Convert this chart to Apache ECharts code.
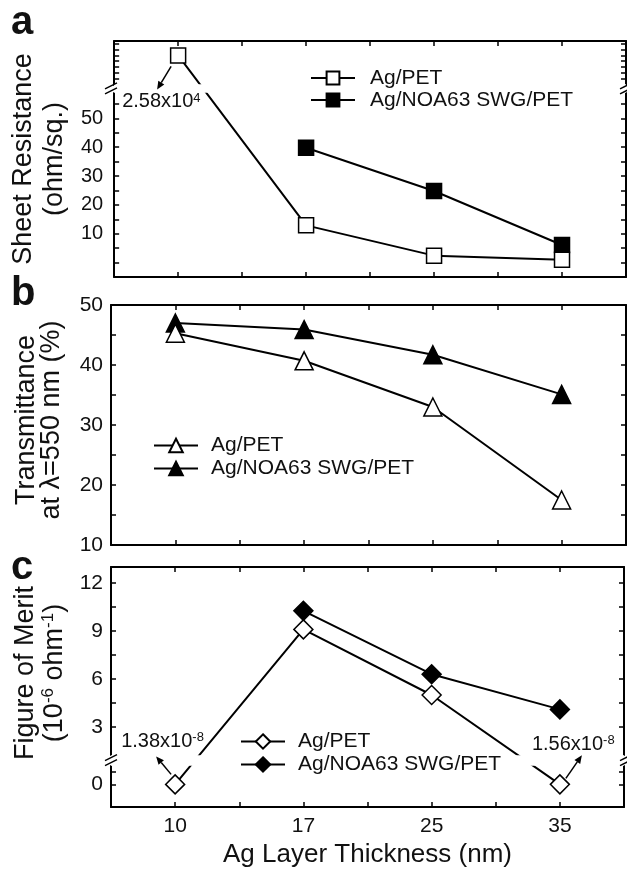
<!DOCTYPE html>
<html><head><meta charset="utf-8">
<script src="https://cdn.jsdelivr.net/npm/echarts@6/dist/echarts.min.js"></script>
<style>html,body{margin:0;padding:0;background:#fff}#c{width:627px;height:870px}</style>
</head><body><div id="c"></div>
<script>
// ---- data ----
const thickness = ['10', '17', '25', '35'];          // Ag layer thickness (nm), equally spaced categories
const sheetResPET = [25800, 12.9, 2.4, 1.0];          // ohm/sq.
const sheetResSWG = [null, 39.8, 24.8, 6.1];
const transPET = [45.3, 40.7, 33.0, 17.5];            // % at 550 nm
const transSWG = [47.0, 45.9, 41.7, 35.1];
const fomPET = [0.0138, 9.1, 5.0, 0.0156];            // 10^-6 ohm^-1
const fomSWG = [null, 10.26, 6.3, 4.1];
const sheetResLabels = [10, 20, 30, 40, 50];
const sheetResTicks = [0, 5, 10, 15, 20, 25, 30, 35, 40, 45, 50, 55, 25792, 25794, 25796, 25798, 25800, 25802, 25804];
const transLabels = [10, 20, 30, 40, 50];
const transTicks = [15, 20, 25, 30, 35, 40, 45];
const fomLabels = [0, 3, 6, 9, 12];
const fomTicks = [0, 0.8, 3, 4.5, 6, 7.5, 9, 10.5, 12];

const FONT = 'Liberation Sans';
const INK = '#111';
const chart = echarts.init(document.getElementById('c'));
const xy = arr => arr.map((v, i) => v == null ? null : [i, v]).filter(p => p);

const grids = [
  {left: 111, right: 1, top: 41, height: 236},
  {left: 111, right: 1, top: 305, height: 240},
  {left: 111, right: 1, top: 567, height: 240}
];

const lineAxis = {color: '#000', width: 2};
function xAxes(g) {
  const base = {
    gridIndex: g, type: 'value', min: -0.5, max: 3.5, interval: 0.5,
    axisLine: {onZero: false, lineStyle: lineAxis},
    axisTick: {inside: true, length: 5, lineStyle: {color: '#000', width: 1.5}},
    splitLine: {show: false}
  };
  return [
    Object.assign({}, base, {
      position: 'bottom',
      axisLabel: {show: g === 2, formatter: v => Number.isInteger(v) ? thickness[v] : '',
        fontSize: 21, color: INK, fontFamily: FONT, margin: 9},
      name: g === 2 ? 'Ag Layer Thickness (nm)' : '', nameLocation: 'middle', nameGap: 34,
      nameTextStyle: {fontSize: 26, color: INK, fontFamily: FONT, lineHeight: 27}
    }),
    Object.assign({}, base, {position: 'top', axisLabel: {show: false}})
  ];
}
function yAxes(g, c) {
  const base = {
    gridIndex: g, type: 'value', min: c.min, max: c.max,
    axisLine: {onZero: false, lineStyle: lineAxis},
    axisTick: {inside: true, length: 5, customValues: c.ticks, lineStyle: {color: '#000', width: 1.5}},
    splitLine: {show: false}
  };
  if (c.breaks) {
    base.breaks = c.breaks;
    base.breakArea = {show: true, itemStyle: {color: '#fff', opacity: 1, borderWidth: 0, borderColor: '#fff'},
      zigzagAmplitude: 0, zigzagZ: 100, expandOnClick: false};
  }
  return [
    Object.assign({}, base, {
      position: 'left',
      axisLabel: {customValues: c.labels, fontSize: c.fs, color: INK, fontFamily: FONT, margin: c.margin},
      name: c.name, nameLocation: 'middle', nameRotate: 90, nameGap: c.nameGap,
      nameTextStyle: {fontSize: 27, color: INK, fontFamily: FONT, lineHeight: c.lh, align: 'center',
        padding: c.pad,
        rich: {s: {fontSize: 17, fontFamily: FONT, color: INK, verticalAlign: 'top', lineHeight: 14}}}
    }),
    Object.assign({}, base, {position: 'right', axisLabel: {show: false}})
  ];
}

const yCfg = [
  {min: -5, max: 25805, breaks: [{start: 59, end: 25790, gap: 2.8}], ticks: sheetResTicks, labels: sheetResLabels,
   fs: 20, margin: 11, name: 'Sheet Resistance\n(ohm/sq.)', nameGap: 38, lh: 31, pad: 0},
  {min: 10, max: 50, ticks: transTicks, labels: transLabels,
   fs: 21, margin: 8, name: 'Transmittance\nat λ=550 nm (%)', nameGap: 47, lh: 25, pad: [0, 0, 0, 10]},
  {min: -1.4, max: 13, breaks: [{start: 1.2, end: 1.25, gap: 0.65}], ticks: fomTicks, labels: fomLabels,
   fs: 21, margin: 8, name: 'Figure of Merit\n(10{s|-6} ohm{s|-1})', nameGap: 38, lh: 29, pad: [0, 0, 0, 28]}
];

function ser(name, g, data, symbol, size, filled) {
  return {
    type: 'line', name, xAxisIndex: 2 * g, yAxisIndex: 2 * g, data: xy(data),
    symbol, symbolSize: size, showAllSymbol: true,
    lineStyle: {color: '#000', width: 2},
    itemStyle: {color: filled ? '#000' : '#fff', borderColor: '#000', borderWidth: 1.5},
    z: filled ? 3 : 4, emphasis: {disabled: true}
  };
}

const series = [
  ser('a|Ag/PET', 0, sheetResPET, 'rect', 15, false),
  ser('a|Ag/NOA63 SWG/PET', 0, sheetResSWG, 'rect', 15, true),
  ser('b|Ag/PET', 1, transPET, 'triangle', 18, false),
  ser('b|Ag/NOA63 SWG/PET', 1, transSWG, 'triangle', 18, true),
  ser('c|Ag/PET', 2, fomPET, 'diamond', 19, false),
  ser('c|Ag/NOA63 SWG/PET', 2, fomSWG, 'diamond', 19, true)
];

function legend(p, left, top, itemH, lh, pad) {
  return {
    data: [p + '|Ag/PET', p + '|Ag/NOA63 SWG/PET'], orient: 'vertical', left, top, z: 300,
    padding: 0, itemGap: 0, itemWidth: 44, itemHeight: itemH, selectedMode: false,
    formatter: n => n.split('|')[1],
    textStyle: {fontSize: 21, color: INK, fontFamily: FONT, lineHeight: lh, padding: [0, 0, 0, pad]}
  };
}

const option = {
  animation: false,
  textStyle: {fontFamily: FONT},
  grid: grids,
  xAxis: [].concat(xAxes(0), xAxes(1), xAxes(2)),
  yAxis: [].concat(yAxes(0, yCfg[0]), yAxes(1, yCfg[1]), yAxes(2, yCfg[2])),
  legend: [legend('a', 310, 67, 16, 22, 10), legend('b', 153, 434, 17, 23, 8), legend('c', 240, 730, 18, 23, 8)],
  series
};
chart.setOption(option);

// ---- annotations positioned from the library's own coordinate conversion ----
const els = [];
function arrow(x1, y1, x2, y2) {
  const a = Math.atan2(y2 - y1, x2 - x1), L = 8, W = 3.5;
  const bx = x2 - L * Math.cos(a), by = y2 - L * Math.sin(a);
  const px = -Math.sin(a) * W, py = Math.cos(a) * W;
  els.push({type: 'line', shape: {x1, y1, x2: bx, y2: by}, style: {stroke: '#000', lineWidth: 1.5}, z: 200});
  els.push({type: 'polygon', shape: {points: [[x2, y2], [bx + px, by + py], [bx - px, by - py]]}, style: {fill: '#000'}, z: 200});
}
function sciText(x, y, text) {
  els.push({type: 'text', x, y, z: 200, style: {text, fontSize: 20, fontFamily: FONT, fill: INK,
    align: 'left', verticalAlign: 'middle',
    rich: {s: {fontSize: 13, fontFamily: FONT, fill: INK, verticalAlign: 'top', lineHeight: 13}}}});
}
function breakMarks(yAxisIndex, s, e) {
  const y = (chart.convertToPixel({yAxisIndex}, s) + chart.convertToPixel({yAxisIndex}, e)) / 2;
  [111, 626].forEach(x => {
    [-2.5, 2.5].forEach(d => {
      els.push({type: 'line', shape: {x1: x - 6, y1: y + d + 3, x2: x + 6, y2: y + d - 3},
        style: {stroke: '#000', lineWidth: 1.5}, z: 210});
    });
  });
}
const pa = chart.convertToPixel({seriesIndex: 0}, [0, sheetResPET[0]]);
arrow(pa[0] - 7, pa[1] + 11, pa[0] - 21, pa[1] + 34);
sciText(pa[0] - 56, pa[1] + 46, '2.58x10{s|4}');
const pc1 = chart.convertToPixel({seriesIndex: 4}, [0, fomPET[0]]);
arrow(pc1[0] - 4, pc1[1] - 10, pc1[0] - 19, pc1[1] - 28);
sciText(pc1[0] - 54, pc1[1] - 43, '1.38x10{s|-8}');
const pc2 = chart.convertToPixel({seriesIndex: 4}, [3, fomPET[3]]);
arrow(pc2[0] + 6, pc2[1] - 6, pc2[0] + 22, pc2[1] - 29);
sciText(pc2[0] - 28, pc2[1] - 40, '1.56x10{s|-8}');
breakMarks(0, 59, 25790);
breakMarks(4, 1.2, 1.25);
['a', 'b', 'c'].forEach((t, i) => {
  els.push({type: 'text', x: 11, y: [23, 294, 568][i], z: 200,
    style: {text: t, fontSize: 40, fontWeight: 'bold', fontFamily: FONT, fill: INK, align: 'left', verticalAlign: 'middle'}});
});
chart.setOption({graphic: {elements: els}});
</script></body></html>
